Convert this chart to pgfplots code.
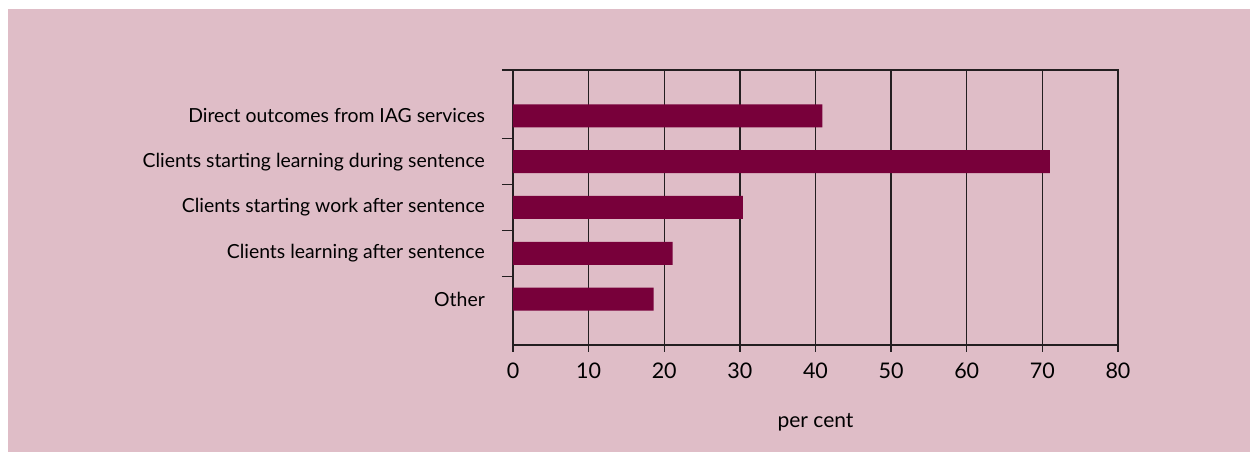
\documentclass[border=0pt]{standalone}
\usepackage{fontspec}
\setmainfont{Lato}
\usepackage{pgfplots}
\pgfplotsset{compat=1.18}
\definecolor{panel}{RGB}{223,189,199}
\definecolor{barc}{RGB}{120,0,58}
\definecolor{axc}{RGB}{35,30,32}
\begin{document}
\begin{tikzpicture}
\path[fill=white] (-513pt,-107pt) rectangle (737pt,345pt);
\path[fill=panel] (-505pt,-107pt) rectangle (737pt,336pt);
\begin{axis}[
  at={(0pt,0pt)}, anchor=south west,
  scale only axis,
  width=605pt, height=275pt,
  xmin=0, xmax=80, ymin=-1, ymax=5,
  xtick={0,10,...,80},
  ytick={0,1,2,3,4},
  yticklabels={Other,Clients learning after sentence,Clients starting work after sentence,Clients starting learning during sentence,Direct outcomes from IAG services},
  extra y ticks={0.5,1.5,2.5,3.5,5},
  extra y tick labels={},
  extra y tick style={major tick length=11pt, ytick style={draw=axc, line width=1.3pt}},
  ytick style={draw=none},
  xtick pos=bottom, ytick pos=left,
  tick align=outside,
  major tick length=7pt,
  xtick style={draw=axc, line width=1.3pt},
  xmajorgrids,
  grid style={draw=axc, line width=1.3pt},
  axis line style={draw=axc, line width=1.3pt},
  /pgf/number format/assume math mode=true,
  x tick label style={font=\fontsize{21.5}{24}\selectfont, text=black, yshift=-7pt},
  y tick label style={font=\fontsize{19.4}{22}\selectfont, text=black, inner sep=0pt, xshift=-21pt},
  xlabel={per cent},
  xlabel style={font=\fontsize{21}{24}\selectfont, yshift=-28pt},
  xbar, bar width=23pt,
]
\addplot[fill=barc, draw=none] coordinates {
  (18.6,0) (21.1,1) (30.4,2) (71.0,3) (40.9,4)
};
\end{axis}
\end{tikzpicture}
\end{document}
